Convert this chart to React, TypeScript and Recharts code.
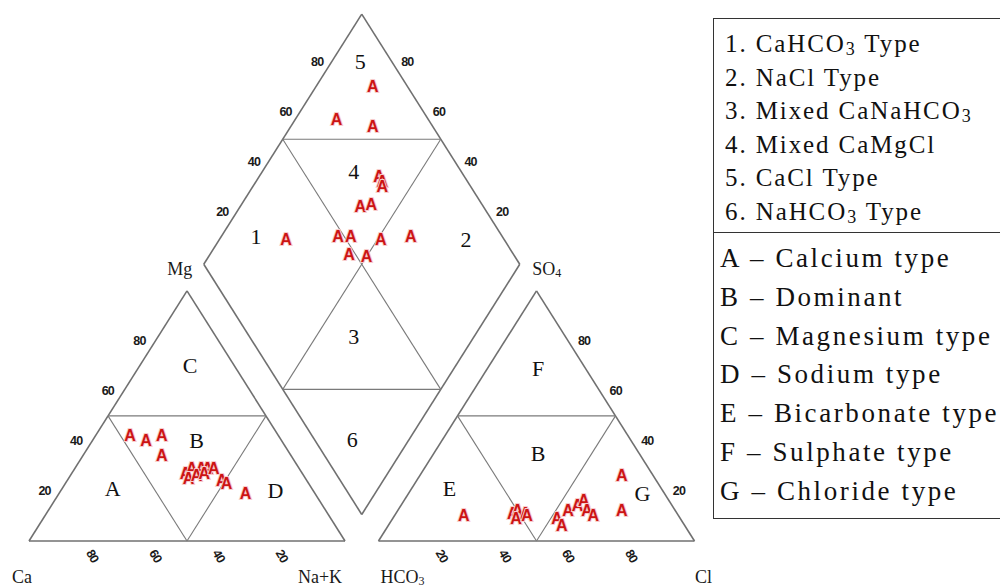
import React from 'react';
import { ScatterChart, Scatter, XAxis, YAxis, ReferenceLine } from 'recharts';

// Piper diagram: samples in cation triangle, anion triangle and central diamond

const ticks = [20, 40, 60, 80];

// cation triangle (% meq): Ca, Mg, Na+K
const cations = [
  { ca: 47, mg: 42, nak: 11 },
  { ca: 43, mg: 40, nak: 17 },
  { ca: 37, mg: 42, nak: 21 },
  { ca: 41, mg: 34, nak: 25 },
  { ca: 37, mg: 27, nak: 36 },
  { ca: 34, mg: 29, nak: 37 },
  { ca: 31, mg: 29, nak: 40 },
  { ca: 29, mg: 29, nak: 42 },
  { ca: 37, mg: 25, nak: 38 },
  { ca: 34, mg: 26, nak: 40 },
  { ca: 31, mg: 27, nak: 42 },
  { ca: 27, mg: 29, nak: 44 },
  { ca: 27, mg: 24, nak: 49 },
  { ca: 26, mg: 23, nak: 51 },
  { ca: 22, mg: 19, nak: 59 },
];

// anion triangle (% meq): HCO3, SO4, Cl
const anions = [
  { hco3: 68, so4: 10, cl: 22 },
  { hco3: 52, so4: 11, cl: 37 },
  { hco3: 50, so4: 12, cl: 38 },
  { hco3: 48, so4: 11, cl: 41 },
  { hco3: 52, so4: 9, cl: 39 },
  { hco3: 48, so4: 10, cl: 42 },
  { hco3: 39, so4: 9, cl: 52 },
  { hco3: 39, so4: 6, cl: 55 },
  { hco3: 34, so4: 12, cl: 54 },
  { hco3: 30, so4: 14, cl: 56 },
  { hco3: 27, so4: 16, cl: 57 },
  { hco3: 28, so4: 12, cl: 60 },
  { hco3: 27, so4: 10, cl: 63 },
  { hco3: 10, so4: 26, cl: 64 },
  { hco3: 17, so4: 12, cl: 71 },
];

// diamond: Ca+Mg and SO4+Cl
const combined = [
  { camg: 82, so4cl: 89 },
  { camg: 87, so4cl: 71 },
  { camg: 74, so4cl: 81 },
  { camg: 62, so4cl: 73 },
  { camg: 60, so4cl: 73 },
  { camg: 59, so4cl: 72 },
  { camg: 62, so4cl: 61 },
  { camg: 59, so4cl: 65 },
  { camg: 63, so4cl: 48 },
  { camg: 59, so4cl: 52 },
  { camg: 49, so4cl: 61 },
  { camg: 40, so4cl: 71 },
  { camg: 79, so4cl: 31 },
  { camg: 56, so4cl: 48 },
  { camg: 50, so4cl: 53 },
];

const cationZones = [
  { label: 'C', mg: 70, nak: 16 },
  { label: 'B', mg: 40, nak: 33 },
  { label: 'A', mg: 21, nak: 16 },
  { label: 'D', mg: 20, nak: 68 },
];
const anionZones = [
  { label: 'F', so4: 69, cl: 16 },
  { label: 'B', so4: 35, cl: 33 },
  { label: 'E', so4: 21, cl: 12 },
  { label: 'G', so4: 19, cl: 74 },
];
const diamondZones = [
  { label: '5', camg: 91, so4cl: 90 },
  { label: '4', camg: 71, so4cl: 66 },
  { label: '1', camg: 89, so4cl: 22 },
  { label: '2', camg: 22, so4cl: 88 },
  { label: '3', camg: 38, so4cl: 33 },
  { label: '6', camg: 18, so4cl: 12 },
];

const waterTypes = [
  ['1. CaHCO', '3', ' Type'],
  ['2. NaCl Type', '', ''],
  ['3. Mixed CaNaHCO', '3', ''],
  ['4. Mixed CaMgCl', '', ''],
  ['5. CaCl Type', '', ''],
  ['6. NaHCO', '3', ' Type'],
];
const facies = [
  'A – Calcium type',
  'B – Dominant',
  'C – Magnesium type',
  'D – Sodium type',
  'E – Bicarbonate type',
  'F – Sulphate type',
  'G – Chloride type',
];

// geometry
const GAP = 10.6;
const H = (Math.sqrt(3) / 2) * 100;
const BX = 100 + GAP / 2;
const BY = (GAP / 2) * Math.sqrt(3);
const XMIN = -9.18, XMAX = 307.28, YMIN = -15.92, YMAX = 187.26;

const cat = (mg: number, nak: number) => ({ x: nak + mg / 2, y: (mg * H) / 100 });
const an = (so4: number, cl: number) => ({ x: 100 + GAP + cl + so4 / 2, y: (so4 * H) / 100 });
const dia = (camg: number, so4cl: number) => ({
  x: BX - camg / 2 + so4cl / 2,
  y: BY + ((camg + so4cl) * H) / 100,
});

type Pt = { x: number; y: number };
const outer: [Pt, Pt][] = [
  [cat(0, 0), cat(0, 100)], [cat(0, 100), cat(100, 0)], [cat(100, 0), cat(0, 0)],
  [an(0, 0), an(0, 100)], [an(0, 100), an(100, 0)], [an(100, 0), an(0, 0)],
  [dia(0, 0), dia(100, 0)], [dia(100, 0), dia(100, 100)], [dia(100, 100), dia(0, 100)], [dia(0, 100), dia(0, 0)],
];
const inner: [Pt, Pt][] = [
  [cat(50, 0), cat(50, 50)], [cat(50, 0), cat(0, 50)], [cat(50, 50), cat(0, 50)],
  [an(50, 0), an(50, 50)], [an(50, 0), an(0, 50)], [an(50, 50), an(0, 50)],
  [dia(100, 50), dia(50, 100)], [dia(50, 0), dia(0, 50)],
  [dia(100, 50), dia(0, 50)], [dia(50, 100), dia(50, 0)],
];

const samplePts = [
  ...cations.map(c => cat(c.mg, c.nak)),
  ...anions.map(a => an(a.so4, a.cl)),
  ...combined.map(d => dia(d.camg, d.so4cl)),
];

const zonePts = [
  ...cationZones.map(z => ({ ...cat(z.mg, z.nak), label: z.label })),
  ...anionZones.map(z => ({ ...an(z.so4, z.cl), label: z.label })),
  ...diamondZones.map(z => ({ ...dia(z.camg, z.so4cl), label: z.label })),
];

const tickPts = [
  ...ticks.map(t => ({ ...cat(t, 0), label: t, dx: -16, dy: 0, rot: 0 })),
  ...ticks.map(t => ({ ...cat(0, 100 - t), label: t, dx: 0, dy: 15, rot: 60 })),
  ...ticks.map(t => ({ ...an(0, t), label: t, dx: 0, dy: 15, rot: 60 })),
  ...ticks.map(t => ({ ...an(t, 100 - t), label: t, dx: 16, dy: 0, rot: 0 })),
  ...ticks.map(t => ({ ...dia(100, t), label: t, dx: -13, dy: -2, rot: 0 })),
  ...ticks.map(t => ({ ...dia(t, 100), label: t, dx: 14, dy: -2, rot: 0 })),
];

const axisPts = [
  { ...cat(0, 0), label: 'Ca', sub: '', dx: -7, dy: 36 },
  { ...cat(0, 100), label: 'Na+K', sub: '', dx: -25, dy: 36 },
  { ...an(0, 0), label: 'HCO', sub: '3', dx: 24, dy: 36 },
  { ...an(0, 100), label: 'Cl', sub: '', dx: 9, dy: 36 },
  { ...dia(100, 0), label: 'Mg', sub: '', dx: -24, dy: 5 },
  { ...dia(0, 100), label: 'SO', sub: '4', dx: 27, dy: 5 },
];

const SampleMark = (props: any) => (
  <text
    x={props.cx}
    y={props.cy}
    textAnchor="middle"
    dominantBaseline="central"
    fontFamily="Liberation Sans, Arial, sans-serif"
    fontSize={16}
    fontWeight="bold"
    fill="#cc1414"
    stroke="#f7cccc"
    strokeWidth={2}
    paintOrder="stroke"
  >
    A
  </text>
);

const ZoneMark = (props: any) => (
  <text x={props.cx} y={props.cy} textAnchor="middle" dominantBaseline="central"
    fontFamily="Liberation Serif, Times New Roman, serif" fontSize={22} fill="#111">
    {props.payload.label}
  </text>
);

const TickMark = (props: any) => {
  const { cx, cy, payload } = props;
  const x = cx + payload.dx, y = cy + payload.dy;
  return (
    <text x={x} y={y} textAnchor="middle" dominantBaseline="central"
      transform={payload.rot ? `rotate(${payload.rot} ${x} ${y})` : undefined}
      fontFamily="Liberation Sans, Arial, sans-serif" fontSize={12.5} fontWeight="bold"
      letterSpacing={-0.8} fill="#1a1a1a">
      {payload.label}
    </text>
  );
};

const AxisMark = (props: any) => {
  const { cx, cy, payload } = props;
  return (
    <text x={cx + payload.dx} y={cy + payload.dy} textAnchor="middle" dominantBaseline="central"
      fontFamily="Liberation Serif, Times New Roman, serif" fontSize={18} fill="#1a1a1a">
      {payload.label}
      {payload.sub && <tspan fontSize={12} dy={4}>{payload.sub}</tspan>}
    </text>
  );
};

const serif = '"Liberation Serif", "Times New Roman", serif';

export default function App() {
  return (
    <div style={{ position: 'absolute', left: 0, top: 0, width: 1000, height: 587, background: '#fff', overflow: 'hidden' }}>
      <ScatterChart width={1000} height={587} margin={{ top: 0, right: 0, bottom: 0, left: 0 }}>
        <XAxis type="number" dataKey="x" domain={[XMIN, XMAX]} allowDataOverflow hide />
        <YAxis type="number" dataKey="y" domain={[YMIN, YMAX]} allowDataOverflow hide />
        {outer.map((s, i) => (
          <ReferenceLine key={`o${i}`} segment={s} stroke="#707070" strokeWidth={1.6} />
        ))}
        {inner.map((s, i) => (
          <ReferenceLine key={`i${i}`} segment={s} stroke="#7a7a7a" strokeWidth={1.1} />
        ))}
        <Scatter data={tickPts} shape={TickMark} isAnimationActive={false} />
        <Scatter data={axisPts} shape={AxisMark} isAnimationActive={false} />
        <Scatter data={zonePts} shape={ZoneMark} isAnimationActive={false} />
        <Scatter data={samplePts} shape={SampleMark} isAnimationActive={false} />
      </ScatterChart>
      <div style={{ position: 'absolute', left: 713, top: 18, width: 320, height: 499, border: '1.5px solid #333', fontFamily: serif, color: '#111' }}>
        {waterTypes.map((w, i) => (
          <div key={w[0]} style={{ position: 'absolute', left: 11, top: 8 + i * 33.5, height: 33, lineHeight: '33px', fontSize: 25, letterSpacing: 1.9, whiteSpace: 'nowrap' }}>
            {w[0]}
            {w[1] && <sub style={{ fontSize: 18, verticalAlign: -3 }}>{w[1]}</sub>}
            {w[2]}
          </div>
        ))}
        <div style={{ position: 'absolute', left: 0, top: 213, width: '100%', borderTop: '1.5px solid #333' }} />
        {facies.map((f, i) => (
          <div key={f} style={{ position: 'absolute', left: 6, top: 220 + i * 38.8, height: 38, lineHeight: '38px', fontSize: 27, letterSpacing: 2.6, whiteSpace: 'nowrap' }}>
            {f}
          </div>
        ))}
      </div>
    </div>
  );
}
